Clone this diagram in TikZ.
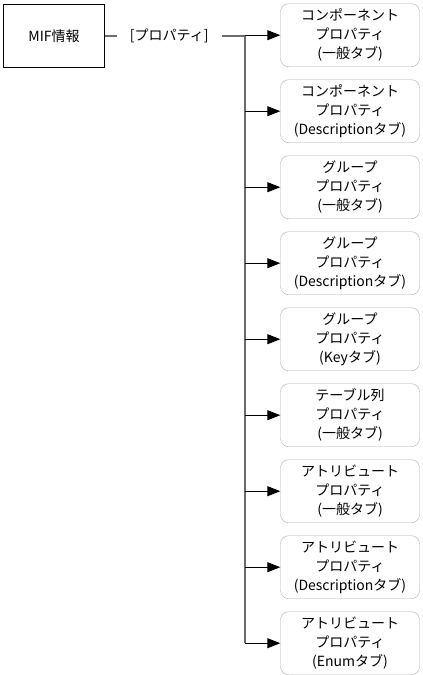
\documentclass[tikz,border=0pt]{standalone}
\usepackage{fontspec}
\setmainfont{Noto Sans CJK JP}
\usetikzlibrary{arrows.meta,positioning}
\tikzset{
  txt/.style={font=\fontsize{14pt}{19pt}\selectfont, align=center, inner sep=0pt},
  srcbox/.style={txt, draw, minimum width=101pt, minimum height=63.5pt},
  lbl/.style={txt, minimum width=105pt},
  propbox/.style={txt, draw=black!32, rounded corners=8pt, minimum width=139pt, minimum height=63pt},
  trunk/.style={draw=black!58, line width=2pt},
  arr/.style={-{Triangle[length=13pt,width=10pt]}, line width=0.9pt}}
\begin{document}
\begin{tikzpicture}[x=1pt, y=-1pt, node distance=12.6pt]
  \useasboundingbox (0,0) rectangle (423,675);
  \node[srcbox] (mif) at (54,35.7) {MIF情報};
  \node[lbl] (prop) at (169.2,35.7) {[プロパティ]};
  % property dialogs
  \node[propbox] (cp1) at (350,35.2) {コンポーネント\\プロパティ\\(一般タブ)};
  \node[propbox, below=of cp1] (cp2) {コンポーネント\\プロパティ\\(Descriptionタブ)};
  \node[propbox, below=of cp2] (gp1) {グループ\\プロパティ\\(一般タブ)};
  \node[propbox, below=of gp1] (gp2) {グループ\\プロパティ\\(Descriptionタブ)};
  \node[propbox, below=of gp2] (gp3) {グループ\\プロパティ\\(Keyタブ)};
  \node[propbox, below=of gp3] (tc1) {テーブル列\\プロパティ\\(一般タブ)};
  \node[propbox, below=of tc1] (ap1) {アトリビュート\\プロパティ\\(一般タブ)};
  \node[propbox, below=of ap1] (ap2) {アトリビュート\\プロパティ\\(Descriptionタブ)};
  \node[propbox, below=of ap2] (ap3) {アトリビュート\\プロパティ\\(Enumタブ)};
  % connectors
  \coordinate (fork) at (244.5,35.7);
  \draw[trunk] (mif.east) -- (prop.west);
  \draw[trunk] (prop.east) -- (fork) -- (fork |- ap3);
  \foreach \p in {cp1,cp2,gp1,gp2,gp3,tc1,ap1,ap2,ap3}
    \draw[arr] (fork |- \p) -- (\p);
\end{tikzpicture}
\end{document}
